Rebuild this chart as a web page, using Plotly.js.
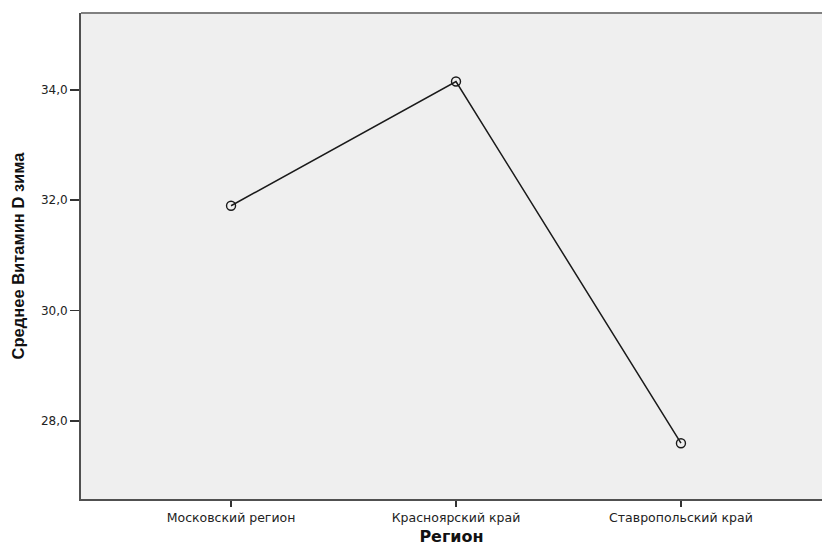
<!DOCTYPE html>
<html>
<head>
<meta charset="utf-8">
<script src="https://cdn.plot.ly/plotly-3.0.1.min.js"></script>
<style>html,body{margin:0;padding:0;background:#fff;}#chart{width:822px;height:546px;}</style>
</head>
<body>
<div id="chart"></div>
<script>
const regions = ['Московский регион', 'Красноярский край', 'Ставропольский край'];
const meanVitaminD = [31.90, 34.15, 27.60];
const yTickVals = [28, 30, 32, 34];
const yTickText = ['28,0', '30,0', '32,0', '34,0'];

const trace = {
  x: regions,
  y: meanVitaminD,
  type: 'scatter',
  mode: 'lines+markers',
  line: {color: '#1a1a1a', width: 1.5},
  marker: {symbol: 'circle-open', size: 9, color: '#1a1a1a', line: {width: 1.4, color: '#1a1a1a'}},
  hoverinfo: 'skip'
};

const layout = {
  width: 822, height: 546,
  margin: {l: 81, r: 0, t: 13, b: 47},
  paper_bgcolor: '#ffffff',
  plot_bgcolor: '#efefef',
  showlegend: false,
  font: {family: 'DejaVu Sans, sans-serif', color: '#222'},
  xaxis: {
    type: 'category',
    range: [-0.667, 2.627],
    showgrid: false, zeroline: false,
    showline: true, linecolor: '#505050', linewidth: 2,
    mirror: false,
    ticks: 'outside', ticklen: 6, tickwidth: 1.5, tickcolor: '#333',
    tickfont: {family: 'DejaVu Sans, sans-serif', size: 12.5, color: '#222'},
    title: {text: '<b>Регион</b>', font: {family: 'DejaVu Sans, sans-serif', size: 16, color: '#111'}, standoff: 10}
  },
  yaxis: {
    range: [26.59, 35.39],
    tickvals: yTickVals, ticktext: yTickText,
    showgrid: false, zeroline: false,
    showline: true, linecolor: '#505050', linewidth: 2,
    ticks: 'outside', ticklen: 9, tickwidth: 1.5, tickcolor: '#333',
    tickfont: {family: 'DejaVu Sans, sans-serif', size: 12, color: '#222'},
    title: {text: '<b>Среднее Витамин D зима</b>', font: {family: 'Liberation Sans, Arial, sans-serif', size: 16.5, color: '#111'}, standoff: 12}
  },
  shapes: [{
    type: 'line', xref: 'paper', yref: 'paper',
    x0: 0, x1: 1, y0: 1, y1: 1,
    line: {color: '#808080', width: 2}
  }]
};

Plotly.newPlot('chart', [trace], layout, {displayModeBar: false, staticPlot: true});
</script>
</body>
</html>
